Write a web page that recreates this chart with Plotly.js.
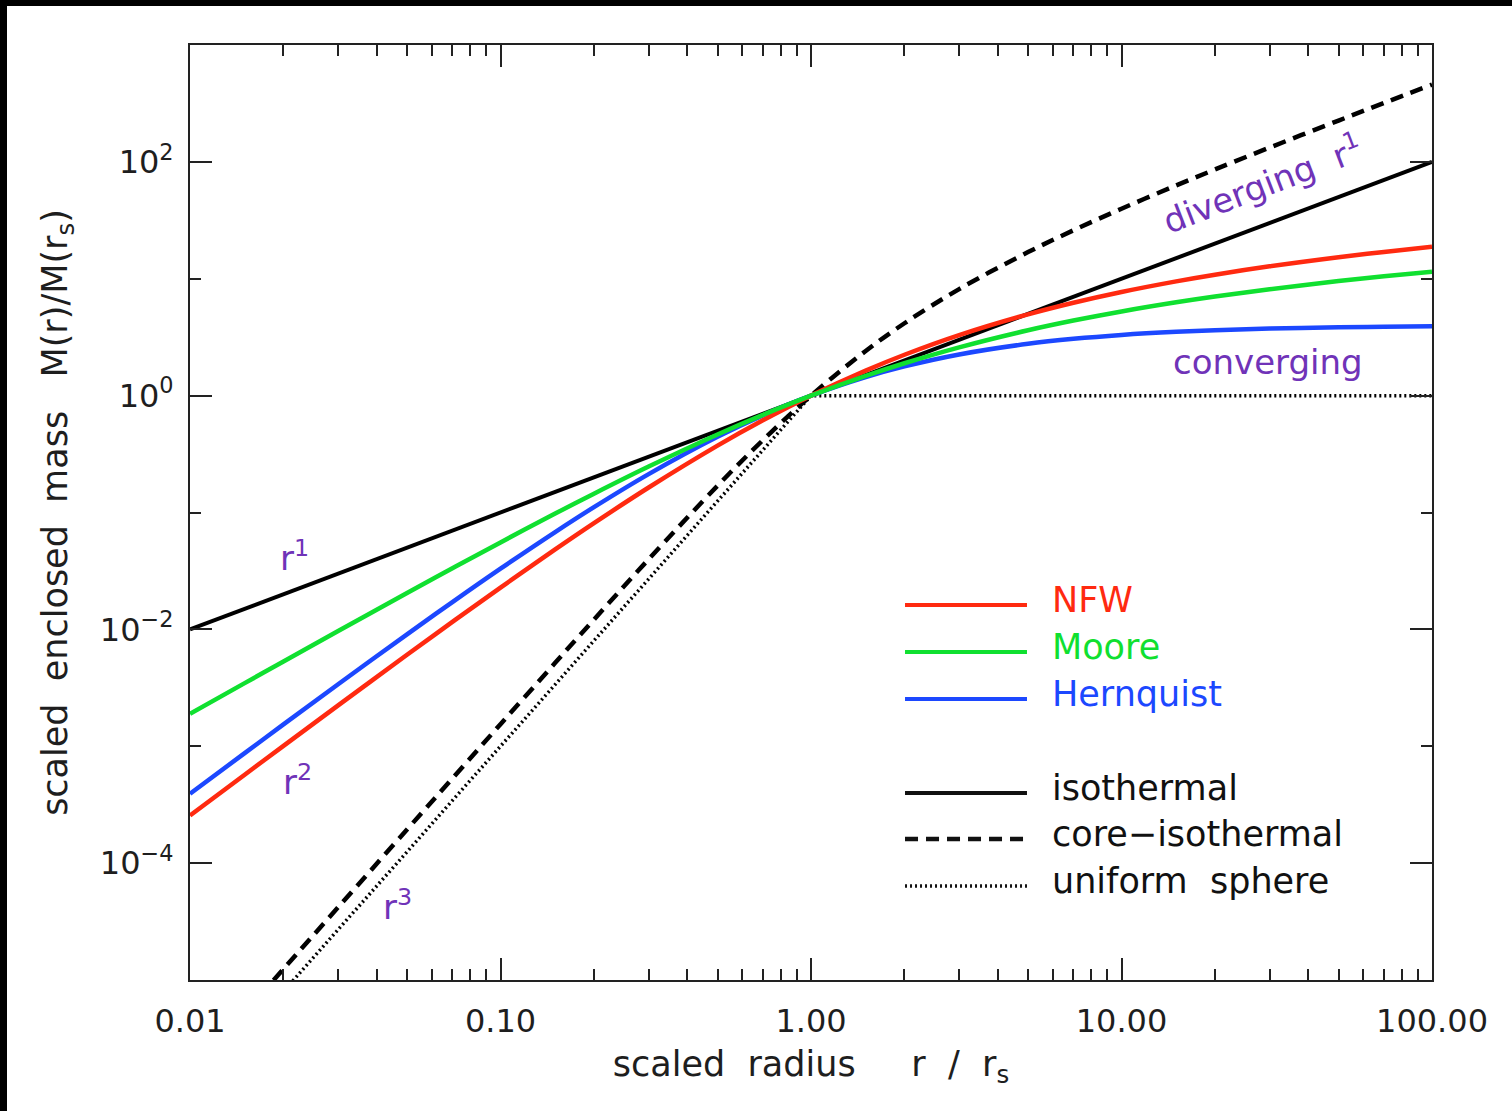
<!DOCTYPE html>
<html><head><meta charset="utf-8">
<script src="https://cdn.plot.ly/plotly-3.0.1.min.js"></script>
<style>
html,body{margin:0;padding:0;background:#000;width:1512px;height:1111px;overflow:hidden;}
#chart{position:absolute;left:7px;top:6px;width:1505px;height:1105px;background:#fff;}
</style></head><body><div id="chart"></div>
<script>
// scaled radius r / r_s
const radius = [0.01,0.015,0.02,0.03,0.05,0.07,0.1,0.15,0.2,0.3,0.5,0.7,1,1.5,2,3,5,7,10,15,20,30,50,70,100];
// enclosed mass M(r)/M(r_s)
const nfw = [2.555e-4,5.710e-4,1.0085e-3,2.2398e-3,6.064e-3,0.011587,0.022786,0.04829,0.081052,0.16358,0.37345,0.6154,1,1.6376,2.2364,3.2944,4.9622,6.2359,7.7081,9.501,10.832,12.769,15.281,16.965,18.768];
const moore = [1.8957e-3,3.4672e-3,5.3145e-3,9.6778e-3,0.020465,0.033325,0.055489,0.09789,0.14495,0.24732,0.46554,0.68488,1,1.4755,1.892,2.5876,3.6244,4.3877,5.2511,6.2846,7.0431,8.1383,9.5484,10.4898,11.495];
const hernquist = [3.9212e-4,8.736e-4,1.5379e-3,3.3933e-3,9.0703e-3,0.017119,0.033058,0.068053,0.11111,0.21302,0.44444,0.6782,1,1.44,1.7778,2.25,2.7778,3.0625,3.3058,3.5156,3.6281,3.7461,3.8447,3.8881,3.9212];
const coreIsothermal = [1.5532e-6,5.2416e-6,1.2423e-5,4.1915e-5,1.9387e-4,5.312e-4,1.544e-3,5.1726e-3,0.012136,0.03981,0.1694,0.416,1,2.4101,4.1605,8.1591,16.899,25.96,39.743,62.888,86.109,132.63,225.76,318.93,458.71];
const isoRadius = [0.01, 100];
const isothermal = [0.01, 100];
const uniformRadius = [0.01, 1, 100];
const uniformSphere = [1e-6, 1, 1];

// tick labels
const xTickVals = [0.01, 0.1, 1, 10, 100];
const xTickText = ["0.01", "0.10", "1.00", "10.00", "100.00"];
const xMinorVals = [0.02,0.03,0.04,0.05,0.06,0.07,0.08,0.09,0.2,0.3,0.4,0.5,0.6,0.7,0.8,0.9,2,3,4,5,6,7,8,9,20,30,40,50,60,70,80,90];
const yTickVals = [1e-4, 1e-2, 1, 1e2];
const yTickText = ["10<sup>\u22124</sup>", "10<sup>\u22122</sup>", "10<sup>0</sup>", "10<sup>2</sup>"];
const yMinorVals = [1e-5, 1e-3, 1e-1, 10, 1e3];

const legendNames = ["NFW", "Moore", "Hernquist", "isothermal", "core\u2212isothermal", "uniform  sphere"];
const legendColors = ["#ff2a10", "#10e030", "#1c48ff", "#111", "#111", "#111"];

const FONT = "DejaVu Sans, Verdana, sans-serif";
const PURPLE = "#7033b8";
const INK = "#1e1e1e";

const traces = [
  {x: uniformRadius, y: uniformSphere, mode: "lines", line: {color: "#000", width: 3.5, dash: "2px,3px"}},
  {x: radius, y: coreIsothermal, mode: "lines", line: {color: "#000", width: 4.5, dash: "13px,8px", shape: "spline"}},
  {x: isoRadius, y: isothermal, mode: "lines", line: {color: "#000", width: 4}},
  {x: radius, y: hernquist, mode: "lines", line: {color: legendColors[2], width: 4.5, shape: "spline"}},
  {x: radius, y: nfw, mode: "lines", line: {color: legendColors[0], width: 4.5, shape: "spline"}},
  {x: radius, y: moore, mode: "lines", line: {color: legendColors[1], width: 4.5, shape: "spline"}}
];

// legend drawn by hand (long line samples)
const legendLineY = [0.4011, 0.3508, 0.3005, 0.2000, 0.1508, 0.1005];
const legendDash = ["solid", "solid", "solid", "solid", "13px,8px", "2px,3px"];
const legendWidth = [4, 4, 4, 4, 4.5, 3.5];
const shapes = legendNames.map((n, i) => ({
  type: "line", xref: "paper", yref: "paper", x0: 0.5757, x1: 0.6739,
  y0: legendLineY[i], y1: legendLineY[i],
  line: {color: legendColors[i], width: legendWidth[i], dash: legendDash[i]}
}));
const annotations = legendNames.map((n, i) => ({
  xref: "paper", yref: "paper", x: 0.6922, y: legendLineY[i] + 0.0055,
  xanchor: "left", yanchor: "middle", text: n, showarrow: false,
  font: {family: FONT, size: 35, color: legendColors[i]}
}));
const labels = [
  {text: "r<sup>1</sup>", x: 0.0845, y: 0.4535},
  {text: "r<sup>2</sup>", x: 0.0862, y: 0.2139},
  {text: "r<sup>3</sup>", x: 0.1667, y: 0.0802},
  {text: "diverging  r<sup>1</sup>", x: 0.8631, y: 0.8524, angle: -21},
  {text: "converging", x: 0.8680, y: 0.661}
];
labels.forEach(l => annotations.push({
  xref: "paper", yref: "paper", x: l.x, y: l.y, xanchor: "center", yanchor: "middle",
  text: l.text, showarrow: false, textangle: l.angle || 0,
  font: {family: FONT, size: 34, color: PURPLE}
}));

const axisCommon = {
  type: "log", showgrid: false, zeroline: false, showline: true,
  linecolor: "#222", linewidth: 2, mirror: "allticks",
  ticks: "inside", ticklen: 22, tickwidth: 2, tickcolor: "#222",
  tickmode: "array", automargin: false,
  tickfont: {family: FONT, size: 32, color: INK}
};

const layout = {
  width: 1505, height: 1105,
  margin: {l: 183, r: 80, t: 39, b: 131, pad: 0},
  paper_bgcolor: "#fff", plot_bgcolor: "#fff",
  showlegend: false,
  xaxis: Object.assign({}, axisCommon, {
    range: [-2, 2], tickvals: xTickVals, ticktext: xTickText, ticklabelstandoff: 12,
    minor: {tickmode: "array", tickvals: xMinorVals, ticks: "inside", ticklen: 11, tickwidth: 2, tickcolor: "#222", showgrid: false},
    title: {text: "scaled  radius     r  /  r<sub>s</sub>", standoff: 12, font: {family: FONT, size: 35, color: INK}}
  }),
  yaxis: Object.assign({}, axisCommon, {
    range: [-5, 3], tickvals: yTickVals, ticktext: yTickText, ticklabelstandoff: 8,
    minor: {tickmode: "array", tickvals: yMinorVals, ticks: "inside", ticklen: 11, tickwidth: 2, tickcolor: "#222", showgrid: false},
    title: {text: "scaled  enclosed  mass   M(r)/M(r<sub>s</sub>)", standoff: 22, font: {family: FONT, size: 35, color: INK}}
  }),
  shapes: shapes,
  annotations: annotations
};

Plotly.newPlot("chart", traces, layout, {displayModeBar: false, staticPlot: true});
</script></body></html>
